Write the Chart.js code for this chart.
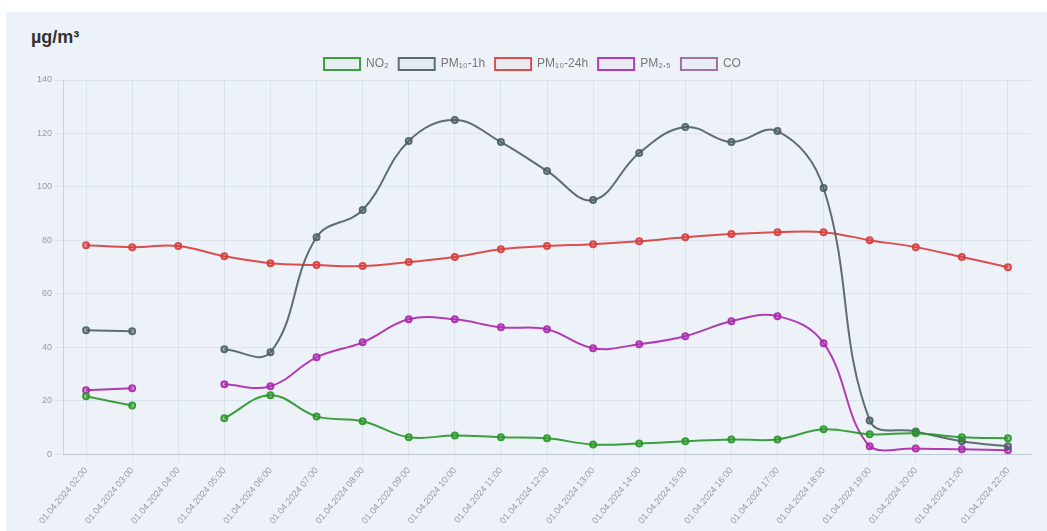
<!DOCTYPE html>
<html>
<head>
<meta charset="utf-8">
<script src="https://cdn.jsdelivr.net/npm/chart.js@4.4.1/dist/chart.umd.min.js"></script>
<style>
    html, body { margin: 0; padding: 0; background: #ffffff; }
    #panel {
        position: absolute; left: 6px; top: 12px; width: 1041px; height: 519px;
        background: #edf2f8; overflow: hidden;
    }
    #unit {
        position: absolute; left: 25px; top: 15px;
        font-family: 'Liberation Sans', Arial, sans-serif; font-size: 18px; font-weight: bold; color: #333;
    }
    #wrap { position: absolute; left: 0; top: 0; width: 1041px; height: 519px; }
</style>
</head>
<body>
<div id="panel">
    <div id="unit">µg/m³</div>
    <div id="wrap"><canvas id="chart"></canvas></div>
</div>
<script>
var labels = ['01.04.2024 02:00','01.04.2024 03:00','01.04.2024 04:00','01.04.2024 05:00','01.04.2024 06:00',
    '01.04.2024 07:00','01.04.2024 08:00','01.04.2024 09:00','01.04.2024 10:00','01.04.2024 11:00',
    '01.04.2024 12:00','01.04.2024 13:00','01.04.2024 14:00','01.04.2024 15:00','01.04.2024 16:00',
    '01.04.2024 17:00','01.04.2024 18:00','01.04.2024 19:00','01.04.2024 20:00','01.04.2024 21:00',
    '01.04.2024 22:00'];

var no2 = [21.7, 18.3, null, 13.5, 22.1, 14.2, 12.4, 6.4, 7.1, 6.4, 6.0, 3.7, 4.1, 4.9, 5.6, 5.6, 9.4, 7.5, 7.9, 6.4, 6.0];
var pm10_1h = [46.4, 46.0, null, 39.3, 38.2, 81.2, 91.4, 117.2, 125.0, 116.8, 106.0, 95.1, 112.7, 122.4, 116.8, 120.9, 99.6, 12.7, 8.6, 4.9, 3.0];
var pm10_24h = [78.2, 77.5, 77.9, 74.1, 71.5, 70.8, 70.4, 71.9, 73.8, 76.7, 77.9, 78.6, 79.7, 81.2, 82.4, 83.1, 83.1, 80.1, 77.5, 73.8, 70.0];
var pm25 = [24.0, 24.7, null, 26.2, 25.5, 36.3, 41.9, 50.5, 50.5, 47.5, 46.8, 39.7, 41.2, 44.2, 49.8, 51.7, 41.6, 3.0, 2.2, 1.9, 1.5];
var co = [];

function series(label, data, r, g, b) {
    return {
        label: label,
        data: data,
        borderColor: 'rgba(' + r + ',' + g + ',' + b + ',0.9)',
        backgroundColor: 'rgba(' + r + ',' + g + ',' + b + ',0.04)',
        pointBackgroundColor: 'rgba(' + r + ',' + g + ',' + b + ',0.45)',
        pointBorderColor: 'rgba(' + r + ',' + g + ',' + b + ',0.9)',
        borderWidth: 2,
        pointRadius: 3,
        pointBorderWidth: 2,
        tension: 0.4,
        spanGaps: false
    };
}

window.addEventListener('DOMContentLoaded', () => {
    var ctx = document.getElementById('chart').getContext('2d');
    var chart = new Chart(ctx, {
        type: 'line',
        data: {
            labels: labels,
            datasets: [
                series('NO₂', no2, 40, 150, 40),
                series('PM₁₀-1h', pm10_1h, 75, 95, 98),
                series('PM₁₀-24h', pm10_24h, 215, 60, 60),
                series('PM₂.₅', pm25, 170, 40, 170),
                series('CO', co, 150, 100, 150)
            ]
        },
        options: {
            responsive: true,
            maintainAspectRatio: false,
            animation: false,
            layout: {
                padding: { top: 36, left: 28, right: 16, bottom: 2 }
            },
            plugins: {
                legend: {
                    display: true,
                    labels: {
                        boxWidth: 36,
                        boxHeight: 12,
                        color: '#777',
                        font: { family: "'Liberation Sans', Arial, sans-serif", size: 12 },
                        padding: 10
                    }
                },
                tooltip: { enabled: false }
            },
            scales: {
                x: {
                    offset: true,
                    grid: { color: 'rgba(120, 140, 170, 0.15)' },
                    border: { color: 'rgba(120, 140, 170, 0.3)' },
                    ticks: {
                        color: '#999',
                        font: { family: "'Liberation Sans', Arial, sans-serif", size: 9 },
                        minRotation: 50,
                        maxRotation: 50,
                        autoSkip: false
                    }
                },
                y: {
                    min: 0,
                    max: 140,
                    grid: { color: 'rgba(120, 140, 170, 0.15)' },
                    border: { color: 'rgba(120, 140, 170, 0.3)' },
                    ticks: {
                        stepSize: 20,
                        color: '#999',
                        font: { family: "'Liberation Sans', Arial, sans-serif", size: 9 }
                    }
                }
            }
        }
    });
})
</script>
</body>
</html>
